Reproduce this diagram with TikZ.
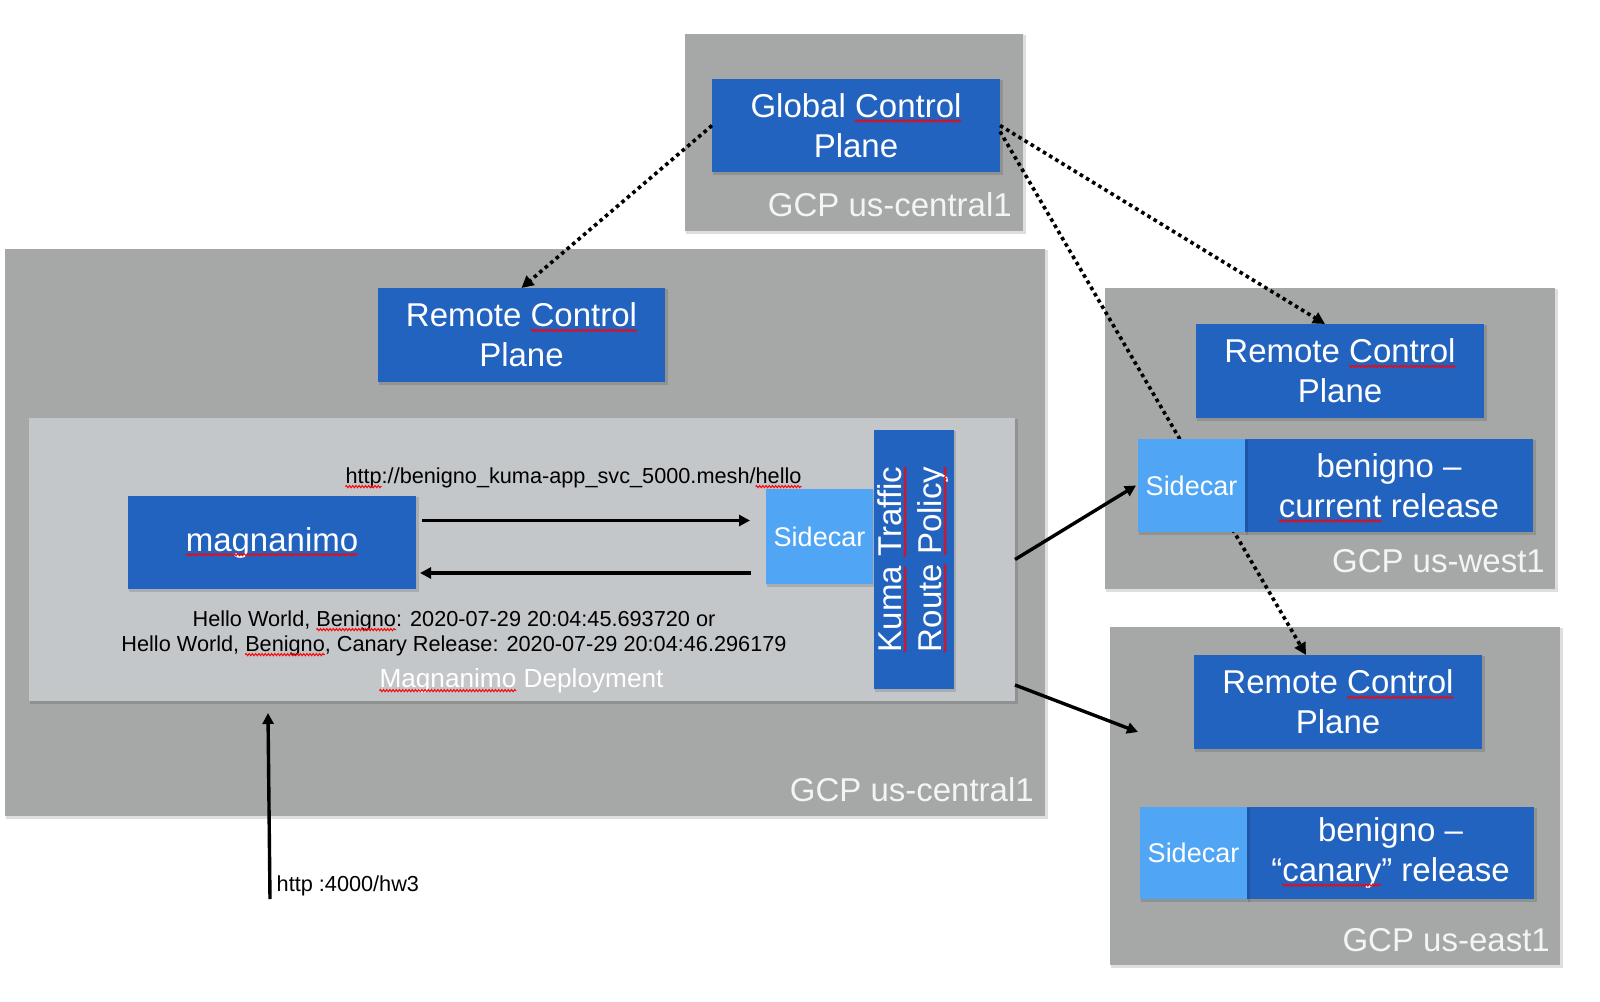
\documentclass[tikz,border=0pt]{standalone}
\usepackage{fontspec}
\usepackage{graphicx}
\setmainfont{Liberation Sans}
\usetikzlibrary{arrows.meta,decorations.pathmorphing}
\definecolor{gbox}{RGB}{165,168,167}
\definecolor{lbox}{RGB}{196,199,202}
\definecolor{bblue}{RGB}{35,99,192}
\definecolor{sblue}{RGB}{80,166,244}
\definecolor{lblc}{RGB}{244,244,244}
\newcommand\sqw[1]{\tikz[baseline=(sqw.base)]{\node[shape=rectangle,inner sep=0pt,outer sep=0pt,minimum width=0pt,minimum height=0pt,draw=none,fill=none,align=none,anchor=base] (sqw) {#1};\draw[overlay,red,line width=0.95pt,fill=none,decorate,decoration={zigzag,amplitude=1.1pt,segment length=3.2pt}] ([yshift=-3.6pt]sqw.base west) -- ([yshift=-3.6pt]sqw.base east);}}
\newcommand\bx[7]{%
  \fill[black,opacity=0.13] ({#3-#5/2+1},{#4-#6/2+1}) rectangle ({#3+#5/2+2.5},{#4+#6/2+2.5});
  \node[#2,minimum width=#5pt,minimum height=#6pt] (#1) at (#3,#4) {#7};}
\tikzset{
  bluebox/.style={fill=bblue,text=white,font=\fontsize{33}{40}\selectfont,align=center,inner sep=0pt,outer sep=0pt},
  sidebox/.style={fill=sblue,text=white,font=\fontsize{27}{32}\selectfont,inner sep=0pt,outer sep=0pt},
  graybox/.style={fill=gbox,inner sep=0pt,outer sep=0pt},
  lgraybox/.style={fill=lbox,inner sep=0pt,outer sep=0pt},
  regionlbl/.style={text=lblc,font=\fontsize{33}{40}\selectfont,anchor=base east,inner sep=0pt},
  smalltxt/.style={font=\fontsize{21.7}{25}\selectfont,anchor=base,inner sep=0pt},
  solidarr/.style={line width=3.4pt,-{Triangle[length=11pt,width=11pt]}},
  dotarr/.style={line width=3.6pt,dash pattern=on 3.6pt off 3.6pt,-{Triangle[length=12pt,width=12pt]}}
}
\begin{document}
\begin{tikzpicture}[x=1pt,y=-1pt]
\useasboundingbox[fill=white] (0,0) rectangle (1600,1001);
% region boxes
\bx{topgray}{graybox}{854}{132.5}{338}{197}{}
\bx{biggray}{graybox}{525}{532.5}{1040}{567}{}
\bx{westgray}{graybox}{1330}{438.5}{450}{301}{}
\bx{eastgray}{graybox}{1335}{796}{450}{338}{}
\bx{deploy}{lgraybox}{522}{559.5}{986}{283}{}
% blue boxes
\bx{gcp}{bluebox}{856}{125.5}{288}{93}{Global \sqw{Control}\\Plane}
\bx{rcpL}{bluebox}{521.5}{335}{287}{94}{Remote \sqw{Control}\\Plane}
\bx{rcpW}{bluebox}{1340}{371}{288}{94}{Remote \sqw{Control}\\Plane}
\bx{rcpE}{bluebox}{1338}{702}{288}{94}{Remote \sqw{Control}\\Plane}
\bx{magn}{bluebox}{272}{542.5}{288}{93}{\sqw{magnanimo}}
\bx{sideL}{sidebox}{819.5}{536.5}{107}{95}{Sidecar}
\bx{kuma}{bluebox}{913.5}{559.5}{79}{259}{\rotatebox{90}{\begin{tabular}{@{}c@{}}\sqw{Kuma} \sqw{Traffic}\\\sqw{Route} \sqw{Policy}\end{tabular}}}
\bx{benE}{bluebox}{1390.5}{853}{287}{92}{benigno –\\“\sqw{canary}” release}
\bx{sideE}{sidebox}{1193.5}{853}{107}{92}{Sidecar}
% labels
\node[regionlbl] (lblTop) at (1012,216) {GCP us-central1};
\node[regionlbl] (lblBig) at (1034,801) {GCP us-central1};
\node[regionlbl] (lblWest) at (1545,572) {GCP us-west1};
\node[regionlbl] (lblEast) at (1550,951) {GCP us-east1};
\node[smalltxt] (url) at (573.5,483) {\sqw{http}://benigno\_kuma-app\_svc\_5000.mesh/\sqw{hello}};
\node[smalltxt] (hello1) at (454,626) {Hello World, \sqw{Benigno}: 2020-07-29 20:04:45.693720 or};
\node[smalltxt] (hello2) at (454,651) {Hello World, \sqw{Benigno}, Canary Release: 2020-07-29 20:04:46.296179};
\node[text=white,font=\fontsize{26.2}{30}\selectfont,anchor=base,inner sep=0pt] (deplbl) at (521.5,687) {\sqw{Magnanimo} Deployment};
\node[smalltxt,anchor=base west] (httplbl) at (276.5,891) {http :4000/hw3};
% dotted control-plane connectors
\draw[dotarr] (gcp.west) -- (rcpL.north);
\draw[dotarr] (gcp.east) -- ([xshift=-15pt]rcpW.north);
\draw[dotarr] ([yshift=-6pt]gcp.east) -- ([xshift=-32pt]rcpE.north);
% west service (drawn over the dotted line)
\bx{benW}{bluebox}{1389}{485.5}{288}{93}{benigno –\\\sqw{current} release}
\bx{sideW}{sidebox}{1191.5}{485.5}{107}{93}{Sidecar}
% solid arrows
\draw[solidarr] ([xshift=6pt,yshift=22pt]magn.east) -- ([xshift=-16pt,yshift=16pt]sideL.west);
\draw[solidarr] ([xshift=-15pt,yshift=-36.5pt]sideL.west) -- ([xshift=4pt,yshift=-30.5pt]magn.east);
\draw[solidarr] (deploy.east) -- ([xshift=-2pt]sideW.west);
\coordinate (eastin) at (1138,732);
\draw[solidarr] ([yshift=16pt]deploy.south east) -- (eastin);
\coordinate (httpsrc) at (270,899);
\coordinate (httpdst) at (268,713);
\draw[solidarr] (httpsrc) -- (httpdst);
\end{tikzpicture}
\end{document}
